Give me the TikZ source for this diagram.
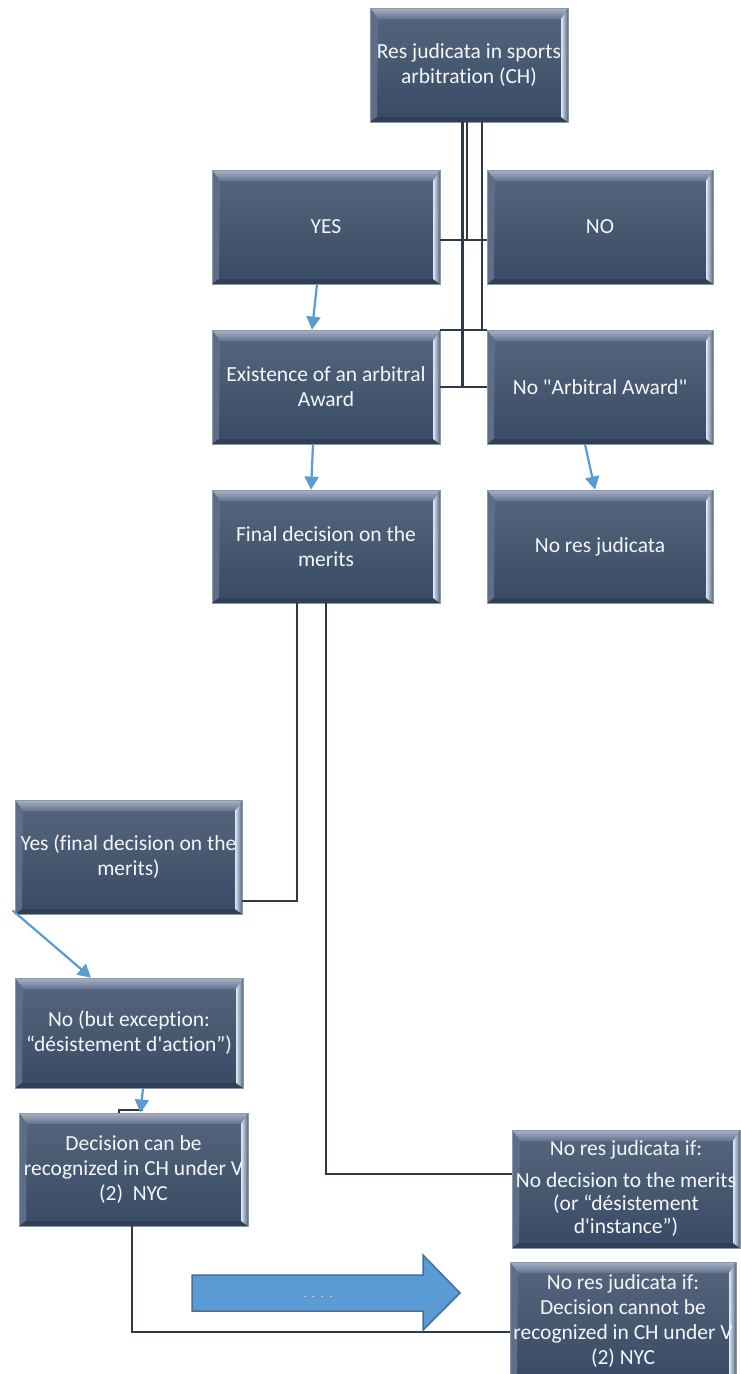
\documentclass[tikz,border=0pt]{standalone}
\usepackage{fontspec}
\setmainfont{Carlito}[Ligatures={TeXOff,NoCommon}]
\usetikzlibrary{arrows.meta,calc}
\definecolor{facetop}{HTML}{56667E}
\definecolor{facebot}{HTML}{384A64}
\definecolor{boxedge}{HTML}{8E97A5}
\definecolor{bevhi}{HTML}{A9B3C3}
\definecolor{bevlo}{HTML}{627290}
\definecolor{bevleft}{HTML}{5E6E88}
\definecolor{bevbot}{HTML}{2F3F56}
\definecolor{bevrin}{HTML}{DCEAF8}
\definecolor{bevrout}{HTML}{56667E}
\definecolor{conncol}{HTML}{2C3A4E}
\definecolor{blueA}{HTML}{5B9BD5}
\definecolor{blueE}{HTML}{41719C}
\definecolor{txt}{HTML}{F4F6F8}
\tikzset{
  sz/.style 2 args={minimum width=#1pt, minimum height=#2pt},
  box/.style={rectangle, inner sep=0pt, align=center, text=txt,
    font=\fontsize{21.5}{25}\selectfont,
    draw=boxedge, line width=0.8pt, top color=facetop, bottom color=facebot,
    path picture={
      \path (path picture bounding box.north west) coordinate (pnw)
            (path picture bounding box.north east) coordinate (pne)
            (path picture bounding box.south west) coordinate (psw)
            (path picture bounding box.south east) coordinate (pse);
      \shade[top color=bevhi, bottom color=bevlo]
        (pnw) -- (pne) -- ($(pne)+(-7pt,-11pt)$) -- ($(pnw)+(8pt,-11pt)$) -- cycle;
      \fill[bevleft] (pnw) -- ($(pnw)+(8pt,-11pt)$) -- ($(psw)+(7pt,5pt)$) -- (psw) -- cycle;
      \fill[bevbot] (psw) -- ($(psw)+(7pt,5pt)$) -- ($(pse)+(-7pt,5pt)$) -- (pse) -- cycle;
      \shade[left color=bevrin, right color=bevrout]
        (pne) -- ($(pne)+(-7pt,-11pt)$) -- ($(pse)+(-7pt,5pt)$) -- (pse) -- cycle;
    }},
  conn/.style={draw=conncol, line width=2.2pt},
  barrow/.style={draw=blueA, line width=2.2pt, -{Triangle[length=13pt,width=14pt]}, blueA},
}
\begin{document}
\begin{tikzpicture}[x=1pt,y=-1pt]
\useasboundingbox (0,0) rectangle (740,1374);
\fill[white] (0,0) rectangle (740,1374);

% boxes
\node[box, sz={198}{114}] (top) at (469,65) {Res judicata in sports\\arbitration (CH)};
\node[box, sz={228}{114}] (yes) at (326,227) {YES};
\node[box, sz={226}{114}] (no) at (600,227) {NO};
\node[box, sz={228}{114}] (exist) at (326,387) {Existence of an arbitral\\Award};
\node[box, sz={226}{114}] (noaa) at (600,387) {No "Arbitral Award"};
\node[box, sz={228}{113}] (final) at (326,546.5) {Final decision on the\\merits};
\node[box, sz={226}{113}] (nores) at (600,546.5) {No res judicata};
\node[box, sz={227}{114}] (yesfin) at (128.5,857) {Yes (final decision on the\\merits)};
\node[box, sz={228}{110}] (noexc) at (129,1033) {No (but exception:\\“désistement d'action”)};
\node[box, sz={229}{113}] (dec) at (133.5,1169.5) {Decision can be\\recognized in CH under V\\(2)\ \ NYC};
\node[box, sz={228}{118}] (nores2) at (626,1189) {No res judicata if:\\[7pt]No decision to the merits\\[-2pt](or “désistement\\[-2pt]d'instance”)};
\node[box, sz={226}{118}] (nores3) at (623,1321) {No res judicata if:\\Decision cannot be\\recognized in CH under V\\(2) NYC};

% junction coordinates
\coordinate (j1) at (467,240);
\coordinate (j2) at (462,387);
\coordinate (j3) at (482,330);
\coordinate (j4) at (297,901);
\coordinate (j5) at (326,1174);
\coordinate (j6) at (132,1332);
\coordinate (s1) at (119,1113);
\coordinate (s2) at (119,1110);
\coordinate (s3) at (143,1110);

% dark connectors
\draw[conn] (top.south -| j1) -- (j1);
\draw[conn] (yes.east |- j1) -- (no.west |- j1);
\draw[conn, line width=3pt] (top.south -| j2) -- (j2);
\draw[conn] (exist.east) -- (noaa.west);
\draw[conn] (top.south -| j3) -- (j3);
\draw[conn] (exist.north east) -- (noaa.north west);
\draw[conn] (final.south -| j4) -- (j4) -- (yesfin.east |- j4);
\draw[conn] (final.south -| j5) -- (j5) -- (nores2.west |- j5);
\draw[conn] (dec.south -| j6) -- (j6) -- (nores3.west |- j6);
\draw[conn, line width=1.6pt] (s1) -- (s2) -- (s3);

% blue arrows
\draw[barrow] ([xshift=-9pt]yes.south) -- ([xshift=-14pt]exist.north);
\draw[barrow] ([xshift=-13pt]exist.south) -- ([xshift=-15pt]final.north);
\draw[barrow] ([xshift=-15pt]noaa.south) -- ([xshift=-5pt]nores.north);
\draw[barrow] ([xshift=-2pt,yshift=4pt]yesfin.south west) -- ([xshift=-38pt]noexc.north);
\draw[barrow] ([xshift=14pt]noexc.south) -- ([xshift=7pt]dec.north);

% big block arrow
\draw[fill=blueA, draw=blueE, line width=1.5pt, line join=miter]
  (192,1275) -- (423,1275) -- (423,1255) -- (460,1293) -- (423,1330) -- (423,1311) -- (192,1311) -- cycle;
\node[text=white!80!blueA, font=\fontsize{9}{10}\selectfont, inner sep=0pt] (dots) at (318,1298) {-\hspace{6pt}-\hspace{6pt}-\hspace{6pt}-};
\end{tikzpicture}
\end{document}
